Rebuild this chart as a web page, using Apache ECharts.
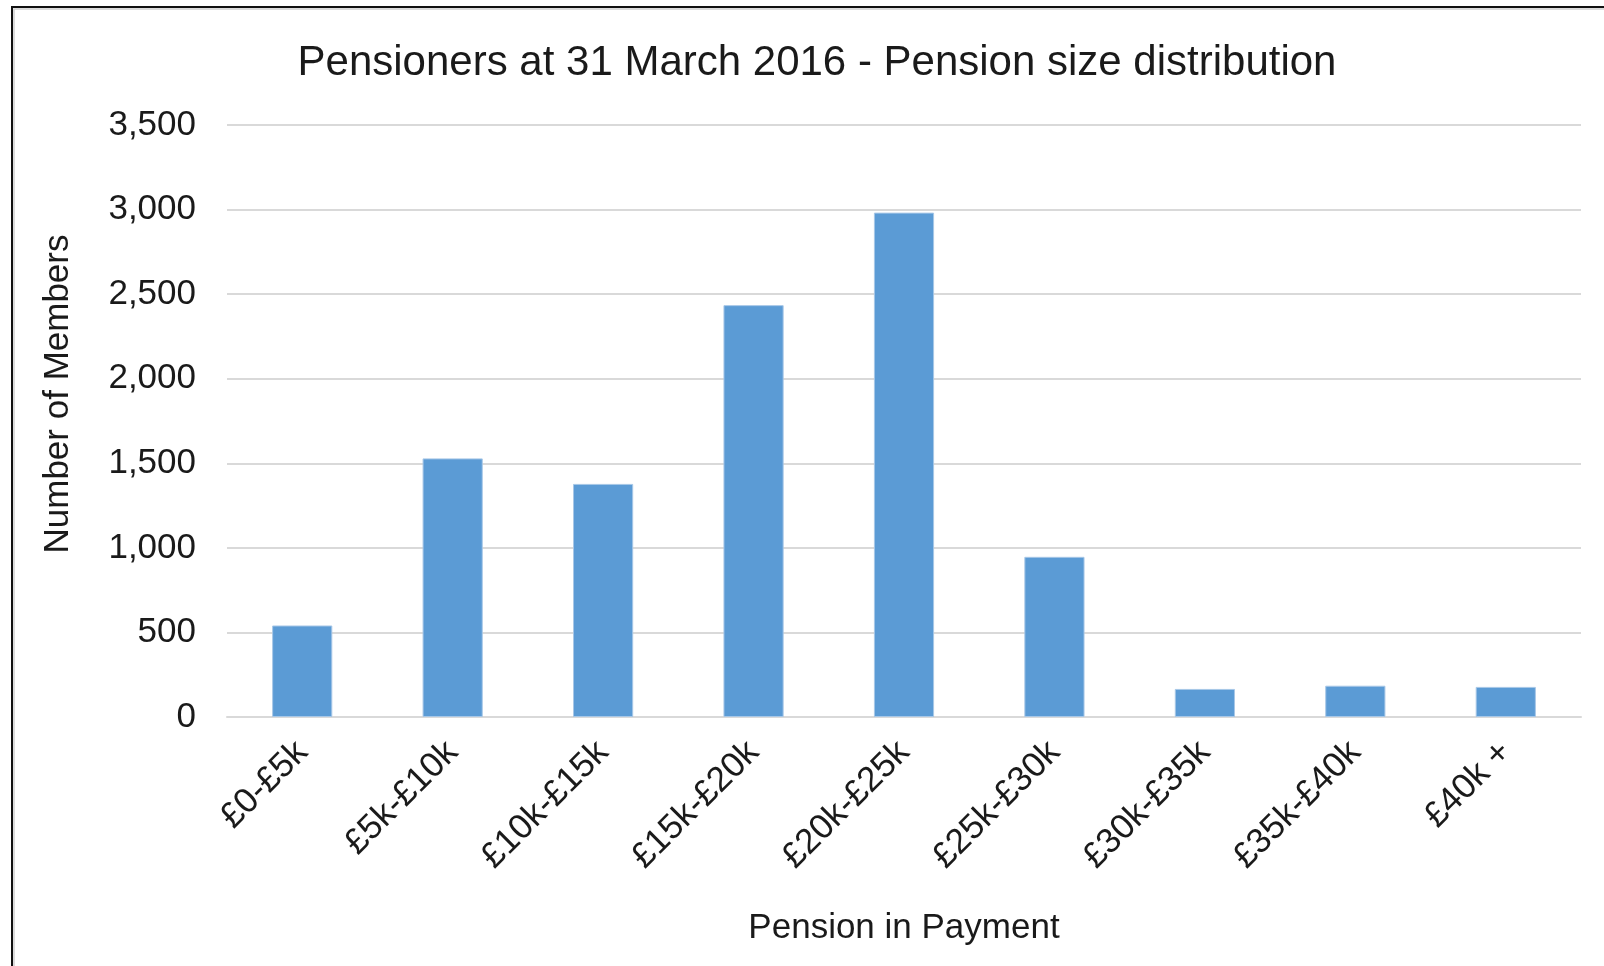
<!DOCTYPE html>
<html>
<head>
<meta charset="utf-8">
<title>Pensioners at 31 March 2016 - Pension size distribution</title>
<script src="https://cdn.jsdelivr.net/npm/echarts@6/dist/echarts.min.js"></script>
<style>
    html, body { margin: 0; padding: 0; background: #fff; }
    #chart { width: 1604px; height: 966px; }
</style>
</head>
<body>
<div id="chart"></div>
<script>
// data
let categories = ['£0-£5k', '£5k-£10k', '£10k-£15k', '£15k-£20k', '£20k-£25k', '£25k-£30k', '£30k-£35k', '£35k-£40k', '£40k +'];
let members = [541, 1529, 1378, 2435, 2982, 947, 166, 185, 178];
let yTicks = [0, 500, 1000, 1500, 2000, 2500, 3000, 3500];

let titleText = 'Pensioners at 31 March 2016 - Pension size distribution';
let xName = 'Pension in Payment';
let yName = 'Number of Members';

let font = '"Liberation Sans", Arial, sans-serif';
let textColor = '#1a1a1a';
let gridColor = '#d9d9d9';

let myChart = echarts.init(document.getElementById('chart'), null, { renderer: 'canvas' });

let option = {
    backgroundColor: '#fff',
    animation: false,
    textStyle: { fontFamily: font },
    title: {
        text: titleText,
        left: 812,
        top: 37,
        textAlign: 'center',
        textStyle: {
            color: textColor,
            fontFamily: font,
            fontWeight: 'normal',
            fontSize: 42
        }
    },
    grid: {
        left: 227,
        right: 23,
        top: 125,
        bottom: 249,
        containLabel: false
    },
    xAxis: {
        type: 'category',
        data: categories,
        name: xName,
        nameLocation: 'middle',
        nameGap: 194,
        nameTextStyle: {
            color: textColor,
            fontSize: 35,
            fontFamily: font,
            verticalAlign: 'top'
        },
        axisTick: { show: false },
        axisLine: {
            show: true,
            lineStyle: { color: gridColor, width: 2 }
        },
        axisLabel: {
            rotate: 45,
            margin: 30,
            interval: 0,
            color: textColor,
            fontSize: 35,
            fontFamily: font
        }
    },
    yAxis: {
        type: 'value',
        min: yTicks[0],
        max: yTicks[yTicks.length - 1],
        interval: 500,
        axisTick: { show: false },
        axisLine: { show: false },
        splitLine: {
            show: true,
            lineStyle: { color: gridColor, width: 2 }
        },
        axisLabel: {
            margin: 31,
            color: textColor,
            fontSize: 35,
            fontFamily: font,
            formatter: function (v) {
                return v.toLocaleString('en-US');
            }
        }
    },
    graphic: [{
        // chart frame, only left and top edges show in the picture
        type: 'polyline',
        shape: { points: [[12, 966], [12, 7], [1604, 7]] },
        style: { stroke: '#111', lineWidth: 2, fill: null }
    }, {
        type: 'polyline',
        shape: { points: [[14, 966], [14, 9], [1604, 9]] },
        style: { stroke: '#d0d0d0', lineWidth: 1.5, fill: null }
    }, {
        type: 'text',
        x: 58,
        y: 394,
        rotation: Math.PI / 2,
        style: {
            text: yName,
            fill: textColor,
            font: '35px ' + font,
            textAlign: 'center',
            textVerticalAlign: 'middle'
        }
    }],
    series: [{
        type: 'bar',
        data: members,
        barWidth: '40%',
        itemStyle: {
            color: '#5b9bd5',
            borderColor: '#a7c7e7',
            borderWidth: 1
        }
    }]
};

myChart.setOption(option);
</script>
</body>
</html>
